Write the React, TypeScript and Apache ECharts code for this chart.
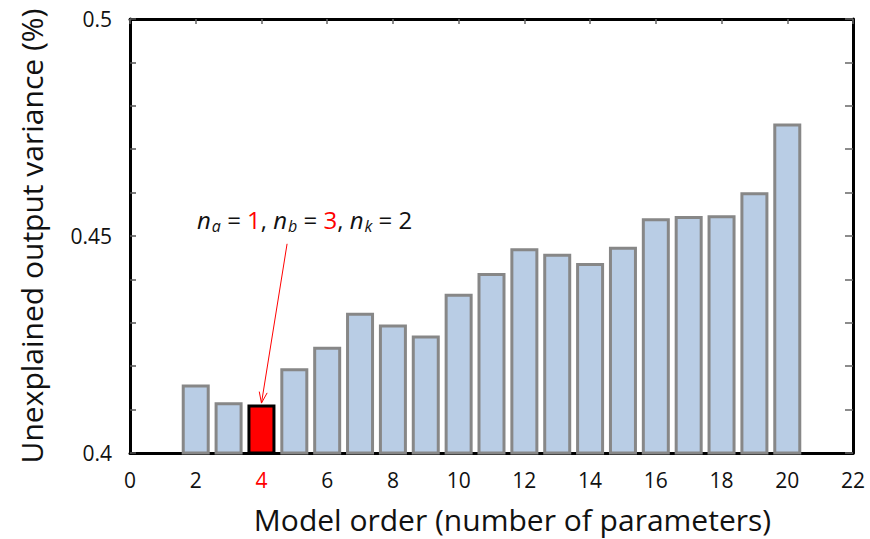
import React, { useEffect, useRef } from "react";
import * as echarts from "echarts";

const modelOrders = [2, 3, 4, 5, 6, 7, 8, 9, 10, 11, 12, 13, 14, 15, 16, 17, 18, 19, 20];
const variances = [
  0.4158, 0.4117, 0.4112, 0.4195, 0.4245, 0.4323, 0.4296, 0.4271, 0.4367, 0.4415,
  0.4472, 0.4459, 0.4438, 0.4475, 0.4541, 0.4546, 0.4548, 0.4601, 0.4759,
];
const selectedOrder = 4;
const yTickLabels = ["0.4", "0.45", "0.5"];
const xTitle = "Model order (number of parameters)";
const yTitle = "Unexplained output variance (%)";

const FONT = "'Open Sans', sans-serif";

export default function App() {
  const ref = useRef<HTMLDivElement>(null);
  useEffect(() => {
    if (!ref.current) return;
    const chart = echarts.init(ref.current, null, { renderer: "svg" });
    const data = modelOrders.map((m, i) => ({
      value: [m, variances[i]],
      itemStyle:
        m === selectedOrder
          ? { color: "#FF0000", borderColor: "#000000", borderWidth: 3 }
          : undefined,
    }));
    chart.setOption({
      animation: false,
      grid: { left: 130, right: 17, top: 19, bottom: 84, containLabel: false },
      xAxis: [
        {
          type: "value",
          position: "bottom",
          min: 0,
          max: 22,
          interval: 2,
          splitLine: { show: false },
          axisLine: { show: true, onZero: false, lineStyle: { color: "#000", width: 3 } },
          axisTick: { show: false },
          axisLabel: {
            margin: 16,
            fontSize: 21,
            fontFamily: FONT,
            color: "#111",
            formatter: (v: number) => (v === selectedOrder ? `{r|${v}}` : `${v}`),
            rich: { r: { color: "#FF0000", fontSize: 21, fontFamily: FONT } },
          },
          name: xTitle,
          nameLocation: "middle",
          nameGap: 51,
          nameTextStyle: {
            fontSize: 30,
            fontFamily: FONT,
            color: "#111",
            padding: [0, 0, 0, 42],
          },
        },
        {
          type: "value",
          position: "top",
          min: 0,
          max: 22,
          interval: 2,
          splitLine: { show: false },
          axisLine: { show: true, onZero: false, lineStyle: { color: "#000", width: 3 } },
          axisTick: { show: true, inside: true, length: 5, lineStyle: { color: "#666", width: 1.5 } },
          axisLabel: { show: false },
        },
      ],
      yAxis: [
        {
          type: "value",
          position: "left",
          min: 0.4,
          max: 0.5,
          interval: 0.01,
          splitLine: { show: false },
          axisLine: { show: true, onZero: false, lineStyle: { color: "#000", width: 3 } },
          axisTick: { show: true, inside: true, length: 6, lineStyle: { color: "#555", width: 1.5 } },
          axisLabel: {
            margin: 18,
            fontSize: 21,
            fontFamily: FONT,
            color: "#111",
            formatter: (v: number) => {
              const hit = yTickLabels.find((t) => Math.abs(parseFloat(t) - v) < 1e-9);
              return hit ?? "";
            },
          },
          name: yTitle,
          nameLocation: "middle",
          nameRotate: 90,
          nameGap: 84,
          nameTextStyle: { fontSize: 30, fontFamily: FONT, color: "#111" },
        },
        {
          type: "value",
          position: "right",
          min: 0.4,
          max: 0.5,
          interval: 0.01,
          splitLine: { show: false },
          axisLine: { show: true, onZero: false, lineStyle: { color: "#000", width: 3 } },
          axisTick: { show: true, inside: true, length: 8, lineStyle: { color: "#666", width: 1.5 } },
          axisLabel: { show: false },
        },
      ],
      series: [
        {
          type: "bar",
          xAxisIndex: 0,
          yAxisIndex: 0,
          barWidth: 28,
          data,
          itemStyle: { color: "#B9CDE5", borderColor: "#878787", borderWidth: 3 },
          z: 1,
        },
      ],
    });

    const selIdx = modelOrders.indexOf(selectedOrder);
    const start = chart.convertToPixel({ xAxisIndex: 0, yAxisIndex: 0 }, [4.78, 0.4482]) as number[];
    const end = chart.convertToPixel({ xAxisIndex: 0, yAxisIndex: 0 }, [selectedOrder, variances[selIdx] + 0.0003]) as number[];
    const dx = start[0] - end[0];
    const dy = start[1] - end[1];
    const len = Math.hypot(dx, dy);
    const ux = dx / len;
    const uy = dy / len;
    const hl = 11;
    const hw = 4;
    const p1 = [end[0] + ux * hl - uy * hw, end[1] + uy * hl + ux * hw];
    const p2 = [end[0] + ux * hl + uy * hw, end[1] + uy * hl - ux * hw];
    const labelPos = chart.convertToPixel({ xAxisIndex: 0, yAxisIndex: 0 }, [2.04, 0.4538]) as number[];

    const ital = { fontStyle: "italic", fontSize: 24, fontFamily: FONT, fill: "#111" };
    const sub = { fontStyle: "italic", fontSize: 16, fontFamily: FONT, fill: "#111", padding: [13, 0, 0, 1] };
    const norm = { fontSize: 24, fontFamily: FONT, fill: "#111" };
    const red = { fontSize: 24, fontFamily: FONT, fill: "#FF0000" };

    chart.setOption({
      graphic: [
        {
          type: "line",
          shape: { x1: start[0], y1: start[1], x2: end[0], y2: end[1] },
          style: { stroke: "#FF0000", lineWidth: 1 },
          z: 10,
        },
        {
          type: "polyline",
          shape: { points: [p1, end, p2] },
          style: { stroke: "#FF0000", lineWidth: 1, fill: null },
          z: 10,
        },
        {
          type: "text",
          x: labelPos[0],
          y: labelPos[1],
          z: 10,
          style: {
            text: "{n|n}{s|a}{t| = }{r|1}{t|, }{n|n}{s|b}{t| = }{r|3}{t|, }{n|n}{s|k}{t| = 2}",
            fontSize: 24,
            fontFamily: FONT,
            fill: "#111",
            verticalAlign: "middle",
            rich: { n: ital, s: sub, t: norm, r: red },
          },
        },
      ],
    });
    return () => chart.dispose();
  }, []);
  return <div ref={ref} style={{ width: 870, height: 539, position: "absolute", left: 0, top: 0 }} />;
}
